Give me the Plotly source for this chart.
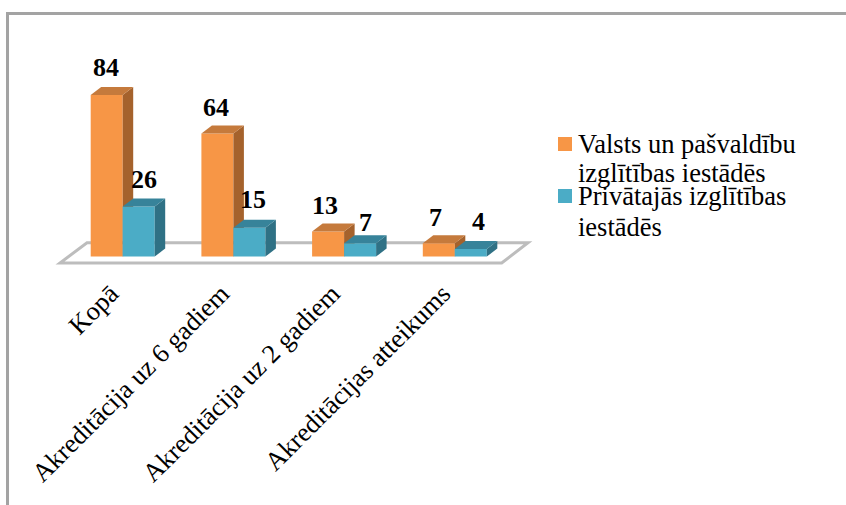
import plotly.graph_objects as go

# ---- data ----
categories = ["Kopā", "Akreditācija uz 6 gadiem", "Akreditācija uz 2 gadiem", "Akreditācijas atteikums"]
series_a_lines = ["Valsts un pašvaldību", "izglītības iestādēs"]
series_b_lines = ["Privātajās izglītības", "iestādēs"]
series_a = [84, 64, 13, 7]
series_b = [26, 15, 7, 4]

# ---- styles / layout constants ----
W, H = 846, 505
FONT = "Liberation Serif"
ORANGE = ("#F79646", "#C57A3C", "#A5622C")   # front, top, side
BLUE = ("#4BACC6", "#37839A", "#2F7185")
GRID = "#BDBDBD"
BORDER = "#A3A3A3"

# pixel frame of the plot area and scales
L, R, T, B = 40, 540, 40, 272
X0_PX, X_STEP = 122.7, 110.7
Y0_PX, Y_SCALE = 256.6, 1.925
BAR_W = 32.0 / X_STEP
DX, DY = 10.5 / X_STEP, 8.0 / Y_SCALE
TICK_SHIFT = -12 / X_STEP

x_range = [(L - X0_PX) / X_STEP, (R - X0_PX) / X_STEP]
y_range = [(Y0_PX - B) / Y_SCALE, (Y0_PX - T) / Y_SCALE]


def px(x):
    return (x - L) / (R - L)


def py(y):
    return (B - y) / (B - T)


def faces(v, left):
    """Top and side parallelograms of a pseudo-3D bar, in data units."""
    right = left + BAR_W
    top = dict(x=[left, right, right + DX, left + DX, left], y=[v, v, v + DY, v + DY, v])
    side = dict(x=[right, right + DX, right + DX, right, right], y=[0, DY, v + DY, v, 0])
    return top, side


fig = go.Figure()


def add_series(values, name, colors, offset, xa, ya):
    fig.add_trace(go.Bar(x=list(range(len(values))), y=values, width=BAR_W, offset=offset,
                         marker=dict(color=colors[0], line=dict(width=0)),
                         name=name, xaxis=xa, yaxis=ya, showlegend=False, hoverinfo="skip"))
    for i, v in enumerate(values):
        top, side = faces(v, i + offset)
        for f, c in ((side, colors[2]), (top, colors[1])):
            fig.add_trace(go.Scatter(x=f["x"], y=f["y"], mode="lines", fill="toself", fillcolor=c,
                                     line=dict(width=0, color=c), showlegend=False,
                                     xaxis=xa, yaxis=ya, hoverinfo="skip"))


add_series(series_a, " ".join(series_a_lines), ORANGE, -BAR_W, "x", "y")
add_series(series_b, " ".join(series_b_lines), BLUE, 0, "x2", "y2")

# floor plate
FLOOR_FRONT_L, FLOOR_FRONT_R = (60 - X0_PX) / X_STEP, (501.7 - X0_PX) / X_STEP
FLOOR_Y = (Y0_PX - 263) / Y_SCALE
floor_path_x = [FLOOR_FRONT_L, FLOOR_FRONT_R, (528 - X0_PX) / X_STEP, (87 - X0_PX) / X_STEP]
floor_path_y = [FLOOR_Y, FLOOR_Y, (Y0_PX - 242.7) / Y_SCALE, (Y0_PX - 242.7) / Y_SCALE]
path = "M " + " L ".join(f"{a},{b}" for a, b in zip(floor_path_x, floor_path_y)) + " Z"

shapes = [
    dict(type="path", path=path, xref="x", yref="y", layer="below", fillcolor="white",
         line=dict(color=GRID, width=3)),
    dict(type="line", xref="paper", yref="paper", x0=px(6), x1=px(W), y0=py(13.5), y1=py(13.5),
         line=dict(color=BORDER, width=3)),
    dict(type="line", xref="paper", yref="paper", x0=px(7.5), x1=px(7.5), y0=py(13.5), y1=py(H),
         line=dict(color=BORDER, width=3)),
]

# value labels: horizontal nudges (px) and gap above bar (px)
label_dx_a = [-1, -1, -3, -3]
label_dx_b = [5, 4, 5, 8]
label_gap_a = [27, 26, 26, 26]
label_gap_b = [27, 28, 21, 27]
annotations = []
for vals, offs, gaps, base in ((series_a, label_dx_a, label_gap_a, -BAR_W / 2),
                               (series_b, label_dx_b, label_gap_b, BAR_W / 2)):
    for i, v in enumerate(vals):
        annotations.append(dict(x=i + base, y=v, xref="x", yref="y", text=f"<b>{v}</b>",
                                showarrow=False, xanchor="center", yanchor="middle",
                                xshift=offs[i], yshift=gaps[i],
                                font=dict(family=FONT, size=26, color="black")))

# legend, laid out by hand because its lines overlap in the source
LEGEND_TEXT_X = 578
legend_rows = [
    (series_a_lines[0], 144), (series_a_lines[1], 173),
    (series_b_lines[0], 196), (series_b_lines[1], 227),
]
for text, yc in legend_rows:
    annotations.append(dict(x=px(LEGEND_TEXT_X), y=py(yc), xref="paper", yref="paper", text=text,
                            showarrow=False, xanchor="left", yanchor="middle", xshift=-2,
                            font=dict(family=FONT, size=26.5, color="black")))
for color, y0 in ((ORANGE[0], 137), (BLUE[0], 189)):
    shapes.append(dict(type="rect", xref="paper", yref="paper", x0=px(558), x1=px(572),
                       y0=py(y0), y1=py(y0 + 14), fillcolor=color, line=dict(width=0)))

fig.update_layout(
    width=W, height=H, autosize=False,
    margin=dict(l=L, r=W - R, t=T, b=H - B, pad=0),
    paper_bgcolor="white", plot_bgcolor="white",
    barmode="overlay", showlegend=False,
    font=dict(family=FONT, size=26.4, color="black"),
    xaxis=dict(range=x_range, showgrid=False, zeroline=False, showline=False, ticks="",
               tickmode="array", tickvals=[i + TICK_SHIFT for i in range(4)], ticktext=categories,
               tickangle=-45, tickfont=dict(family=FONT, size=26.4, color="black"), automargin=False),
    yaxis=dict(range=y_range, visible=False),
    xaxis2=dict(range=x_range, overlaying="x", visible=False),
    yaxis2=dict(range=y_range, overlaying="y", visible=False),
    shapes=shapes, annotations=annotations,
)

fig.write_html("out.html", config=dict(displayModeBar=False),
               post_script="document.body.style.margin='0';")
